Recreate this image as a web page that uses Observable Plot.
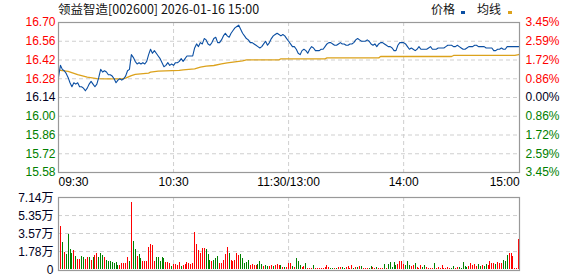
<!DOCTYPE html>
<html><head><meta charset="utf-8">
<script src="https://cdn.jsdelivr.net/npm/d3@7"></script>
<script src="https://cdn.jsdelivr.net/npm/@observablehq/plot@0.6"></script>
<style>
body{margin:0;background:#fff;}
#wrap{position:relative;width:578px;height:276px;overflow:hidden;background:#fff;}
.t{position:absolute;font-family:"Noto Sans CJK SC","Liberation Sans",sans-serif;font-size:12px;line-height:14px;color:#111;white-space:nowrap;}
.mk{position:absolute;width:4px;height:3px;}
#top,#vol{position:absolute;left:0;}
</style></head><body>
<div id="wrap">
  <div class="t" id="title" style="left:58px;top:2px;font-size:12.5px;"></div>
  <div class="t" id="lg0" style="left:431px;top:2px;"></div>
  <div class="mk" style="left:461px;top:11px;background:#0b4fa3;"></div>
  <div class="t" id="lg1" style="left:477px;top:2px;"></div>
  <div class="mk" style="left:508px;top:11px;background:#dca21c;"></div>
  <div id="top" style="top:0px;"></div>
  <div id="vol" style="top:180px;"></div>
</div>
<script>
const title = "领益智造[002600] 2026-01-16 15:00";
const legendLabels = ["价格", "均线"];
const prevClose = 16.14;
const priceTicks = [16.70, 16.56, 16.42, 16.28, 16.14, 16.00, 15.86, 15.72, 15.58];
const pctLabels = ["3.45%", "2.59%", "1.72%", "0.86%", "0.00%", "0.86%", "1.72%", "2.59%", "3.45%"];
const timeTicks = [0, 60, 120, 180, 240];
const timeLabels = ["09:30", "10:30", "11:30/13:00", "14:00", "15:00"];

// price per minute (0 = 09:30 ... 240 = 15:00)
const prices = [
16.29,16.38,16.35,16.34,16.32,16.29,16.25,16.22,16.25,16.24,
16.25,16.22,16.22,16.21,16.19,16.21,16.24,16.26,16.24,16.22,
16.24,16.29,16.35,16.33,16.34,16.33,16.31,16.31,16.30,16.28,
16.25,16.27,16.28,16.27,16.28,16.30,16.34,16.35,16.46,16.44,
16.41,16.39,16.40,16.39,16.40,16.39,16.41,16.46,16.50,16.47,
16.49,16.47,16.45,16.43,16.40,16.37,16.38,16.40,16.38,16.39,
16.38,16.40,16.40,16.41,16.43,16.41,16.43,16.45,16.45,16.45,
16.45,16.51,16.54,16.52,16.55,16.54,16.58,16.57,16.54,16.53,
16.55,16.58,16.59,16.55,16.55,16.57,16.60,16.62,16.60,16.59,
16.62,16.64,16.66,16.67,16.68,16.65,16.62,16.60,16.58,16.57,
16.55,16.55,16.54,16.53,16.52,16.51,16.52,16.54,16.56,16.53,
16.55,16.58,16.60,16.61,16.62,16.61,16.60,16.61,16.60,16.58,
16.56,16.54,16.52,16.52,16.50,16.47,16.46,16.49,16.50,16.49,
16.47,16.50,16.52,16.51,16.49,16.49,16.49,16.50,16.50,16.52,
16.54,16.55,16.55,16.54,16.53,16.53,16.54,16.55,16.54,16.54,
16.53,16.53,16.54,16.54,16.55,16.57,16.58,16.57,16.56,16.56,
16.56,16.57,16.56,16.54,16.53,16.54,16.52,16.54,16.55,16.55,
16.54,16.53,16.52,16.52,16.51,16.49,16.49,16.53,16.55,16.55,
16.55,16.54,16.52,16.50,16.51,16.50,16.49,16.50,16.52,16.50,
16.50,16.50,16.50,16.51,16.52,16.50,16.50,16.50,16.51,16.51,
16.51,16.51,16.52,16.53,16.53,16.53,16.52,16.52,16.53,16.52,
16.51,16.50,16.50,16.51,16.52,16.52,16.52,16.53,16.53,16.52,
16.52,16.52,16.52,16.51,16.51,16.51,16.51,16.49,16.49,16.50,
16.50,16.51,16.50,16.50,16.52,16.52,16.52,16.52,16.52,16.52,16.52
];

// average price line, read at its turning points
const avgMinutes = [0,5,10,15,20,25,33,35,38,40,47,48,52,63,65,71,74,77,81,85,88,92,96,98,115,116,139,140,167,168,205,206,238,240];
const avgValues  = [16.345,16.335,16.31,16.292,16.281,16.279,16.279,16.285,16.304,16.312,16.322,16.329,16.337,16.342,16.347,16.354,16.366,16.374,16.379,16.391,16.399,16.406,16.414,16.421,16.421,16.429,16.429,16.436,16.436,16.446,16.446,16.454,16.454,16.461];

// volume per minute (万), minutes 1..240
const volumes = [
4.28,2.69,1.72,1.53,3.50,1.95,1.56,1.85,1.30,0.97,
1.04,1.30,1.17,0.97,1.17,1.17,0.88,1.17,1.36,1.56,
1.23,1.56,1.36,1.23,0.88,0.75,0.75,0.68,0.62,0.68,
0.42,0.42,0.55,0.55,0.55,1.17,0.75,6.65,2.82,1.95,
1.30,1.46,1.07,0.75,0.81,0.75,2.17,2.43,2.37,0.75,
1.17,1.17,0.75,1.17,1.07,0.65,0.65,0.55,0.32,0.49,
0.49,0.39,0.65,0.32,0.39,0.49,0.65,0.55,0.49,0.62,
3.63,2.50,1.85,1.62,2.04,2.11,1.95,1.46,0.88,0.81,
0.88,1.07,1.30,0.62,0.62,0.88,1.46,2.17,1.62,0.88,
0.81,0.88,1.62,1.40,1.46,1.07,0.62,0.65,0.88,0.39,
0.49,0.39,0.39,0.49,0.75,0.49,0.32,0.39,0.26,0.32,
0.39,0.32,0.39,0.49,0.39,0.42,0.23,0.23,0.16,0.62,
0.58,0.29,0.16,1.07,0.75,0.36,0.23,0.32,0.58,0.06,
0.06,0.06,0.39,0.06,0.06,0.06,0.06,0.06,0.16,0.39,
0.16,0.10,0.10,0.10,0.10,0.16,0.16,0.16,0.10,0.16,
0.29,0.10,0.36,0.10,0.23,0.23,0.29,0.29,0.10,0.10,
0.10,0.10,0.29,0.16,0.10,0.23,0.10,0.10,0.10,0.49,
0.10,0.49,0.65,0.23,0.65,0.42,0.49,0.75,0.75,0.49,
0.36,0.75,0.36,0.29,0.36,0.55,0.23,0.10,0.36,0.23,
0.42,0.16,0.10,0.10,0.10,0.55,0.10,0.23,0.10,0.36,
0.10,0.10,0.23,0.10,0.10,0.29,0.10,0.23,0.16,0.10,
0.65,0.29,0.23,0.29,0.62,0.36,0.49,0.29,0.49,0.29,
0.36,0.29,0.49,0.36,0.75,0.62,0.55,0.49,0.65,0.55,
0.55,0.88,0.78,1.36,1.62,1.62,1.27,0.10,0.10,3.02
];
// 1 = up minute, -1 = down minute
const volDir = [
1,-1,1,-1,-1,-1,-1,1,-1,1,
1,-1,-1,1,1,-1,1,-1,1,1,
-1,-1,-1,1,-1,-1,-1,-1,-1,-1,
-1,1,1,1,1,1,-1,1,-1,-1,
1,-1,-1,1,1,1,1,1,1,1,
-1,-1,-1,-1,-1,1,1,1,-1,1,
1,1,1,-1,1,1,1,1,1,1,
1,1,1,1,1,1,-1,-1,-1,1,
-1,-1,-1,1,1,1,1,1,-1,1,
1,1,1,1,-1,-1,-1,-1,-1,1,
1,1,1,-1,-1,-1,1,-1,-1,1,
1,-1,1,1,1,-1,1,-1,1,1,
1,-1,1,-1,-1,-1,1,1,-1,1,
1,1,-1,1,1,1,1,1,1,1,
1,-1,-1,1,-1,1,1,-1,-1,1,
1,1,1,-1,1,-1,1,-1,1,1,
1,-1,-1,1,1,-1,1,1,1,-1,
1,-1,-1,-1,-1,-1,1,1,1,1,
-1,-1,-1,1,1,-1,1,1,1,-1,
-1,1,1,1,1,-1,1,1,1,1,
1,1,1,1,-1,-1,1,1,-1,-1,
-1,-1,-1,1,1,1,1,1,-1,-1,
1,-1,-1,1,1,1,1,-1,1,1,
1,-1,-1,-1,1,1,1,1,1,1
];
const volTicks = [7.14, 5.35, 3.57, 1.78, 0];
const volLabels = ["7.14万", "5.35万", "3.57万", "1.78万", "0"];

document.getElementById("title").textContent = title;
document.getElementById("lg0").textContent = legendLabels[0];
document.getElementById("lg1").textContent = legendLabels[1];

const RED = "#ff0000", GREEN = "#008000", DARK = "#000022";
const GRID = "#cfcfcf", FRAME = "#999999";
const FONT = "'Liberation Sans', Arial, 'Noto Sans CJK SC', sans-serif";
const tickColor = d => d > prevClose + 1e-9 ? RED : (d < prevClose - 1e-9 ? GREEN : DARK);
const X_RANGE = [58, 518.2];

const topPlot = Plot.plot({
  width: 578, height: 190,
  marginLeft: 58, marginRight: 59, marginTop: 22, marginBottom: 18,
  style: {fontFamily: FONT, fontSize: "12px", background: "transparent", overflow: "visible"},
  x: {domain: [0, 240], range: X_RANGE, axis: null},
  y: {domain: [15.58, 16.70], axis: null},
  color: {type: "identity"},
  marks: [
    Plot.ruleY(priceTicks.slice(1, -1), {stroke: GRID, strokeDasharray: "4,3"}),
    Plot.ruleX(timeTicks.slice(1, -1), {stroke: GRID, strokeDasharray: "4,3"}),
    Plot.line(avgMinutes, {x: d => d, y: (d, i) => avgValues[i], stroke: "#dca21c", strokeWidth: 1.3}),
    Plot.line(prices, {x: (d, i) => i, y: d => d, stroke: "#0b4fa3", strokeWidth: 1.1}),
    Plot.frame({stroke: FRAME, strokeWidth: 1.2}),
    Plot.text(priceTicks, {y: d => d, text: d => d.toFixed(2), frameAnchor: "left", textAnchor: "end", dx: -3, fill: tickColor}),
    Plot.text(priceTicks, {y: d => d, text: (d, i) => pctLabels[i], frameAnchor: "right", textAnchor: "start", dx: 6, fill: tickColor}),
    Plot.text(timeTicks.slice(0, 1), {x: d => d, text: (d, i) => timeLabels[0], frameAnchor: "bottom", lineAnchor: "top", dy: 5, textAnchor: "start", fill: "#000"}),
    Plot.text(timeTicks.slice(1, 4), {x: d => d, text: (d, i) => timeLabels[i + 1], frameAnchor: "bottom", lineAnchor: "top", dy: 5, textAnchor: "middle", fill: "#000"}),
    Plot.text(timeTicks.slice(4), {x: d => d, text: (d, i) => timeLabels[4], frameAnchor: "bottom", lineAnchor: "top", dy: 5, textAnchor: "end", dx: 1, fill: "#000"})
  ]
});
document.getElementById("top").appendChild(topPlot);

const volData = volumes.map((v, k) => ({m: k + 1, v, dir: volDir[k]}));
const volPlot = Plot.plot({
  width: 578, height: 96,
  marginLeft: 58, marginRight: 59, marginTop: 17, marginBottom: 6,
  style: {fontFamily: FONT, fontSize: "12px", background: "transparent", overflow: "visible"},
  x: {domain: [0, 240], range: X_RANGE, axis: null},
  y: {domain: [0, 7.14], range: [89, 17], axis: null},
  color: {type: "identity"},
  marks: [
    Plot.ruleY(volTicks.slice(1, -1), {stroke: GRID, strokeDasharray: "4,3"}),
    Plot.ruleX(timeTicks.slice(1, -1), {stroke: GRID, strokeDasharray: "4,3"}),
    Plot.ruleX(volData, {x: "m", y1: 0, y2: "v", stroke: d => d.dir > 0 ? RED : GREEN, strokeWidth: 1, shapeRendering: "crispEdges"}),
    Plot.frame({stroke: FRAME, strokeWidth: 1.2}),
    Plot.text(volTicks, {y: d => d, text: (d, i) => volLabels[i], frameAnchor: "left", textAnchor: "end", dx: -5, dy: 1, fill: DARK})
  ]
});
document.getElementById("vol").appendChild(volPlot);
</script>
</body></html>
